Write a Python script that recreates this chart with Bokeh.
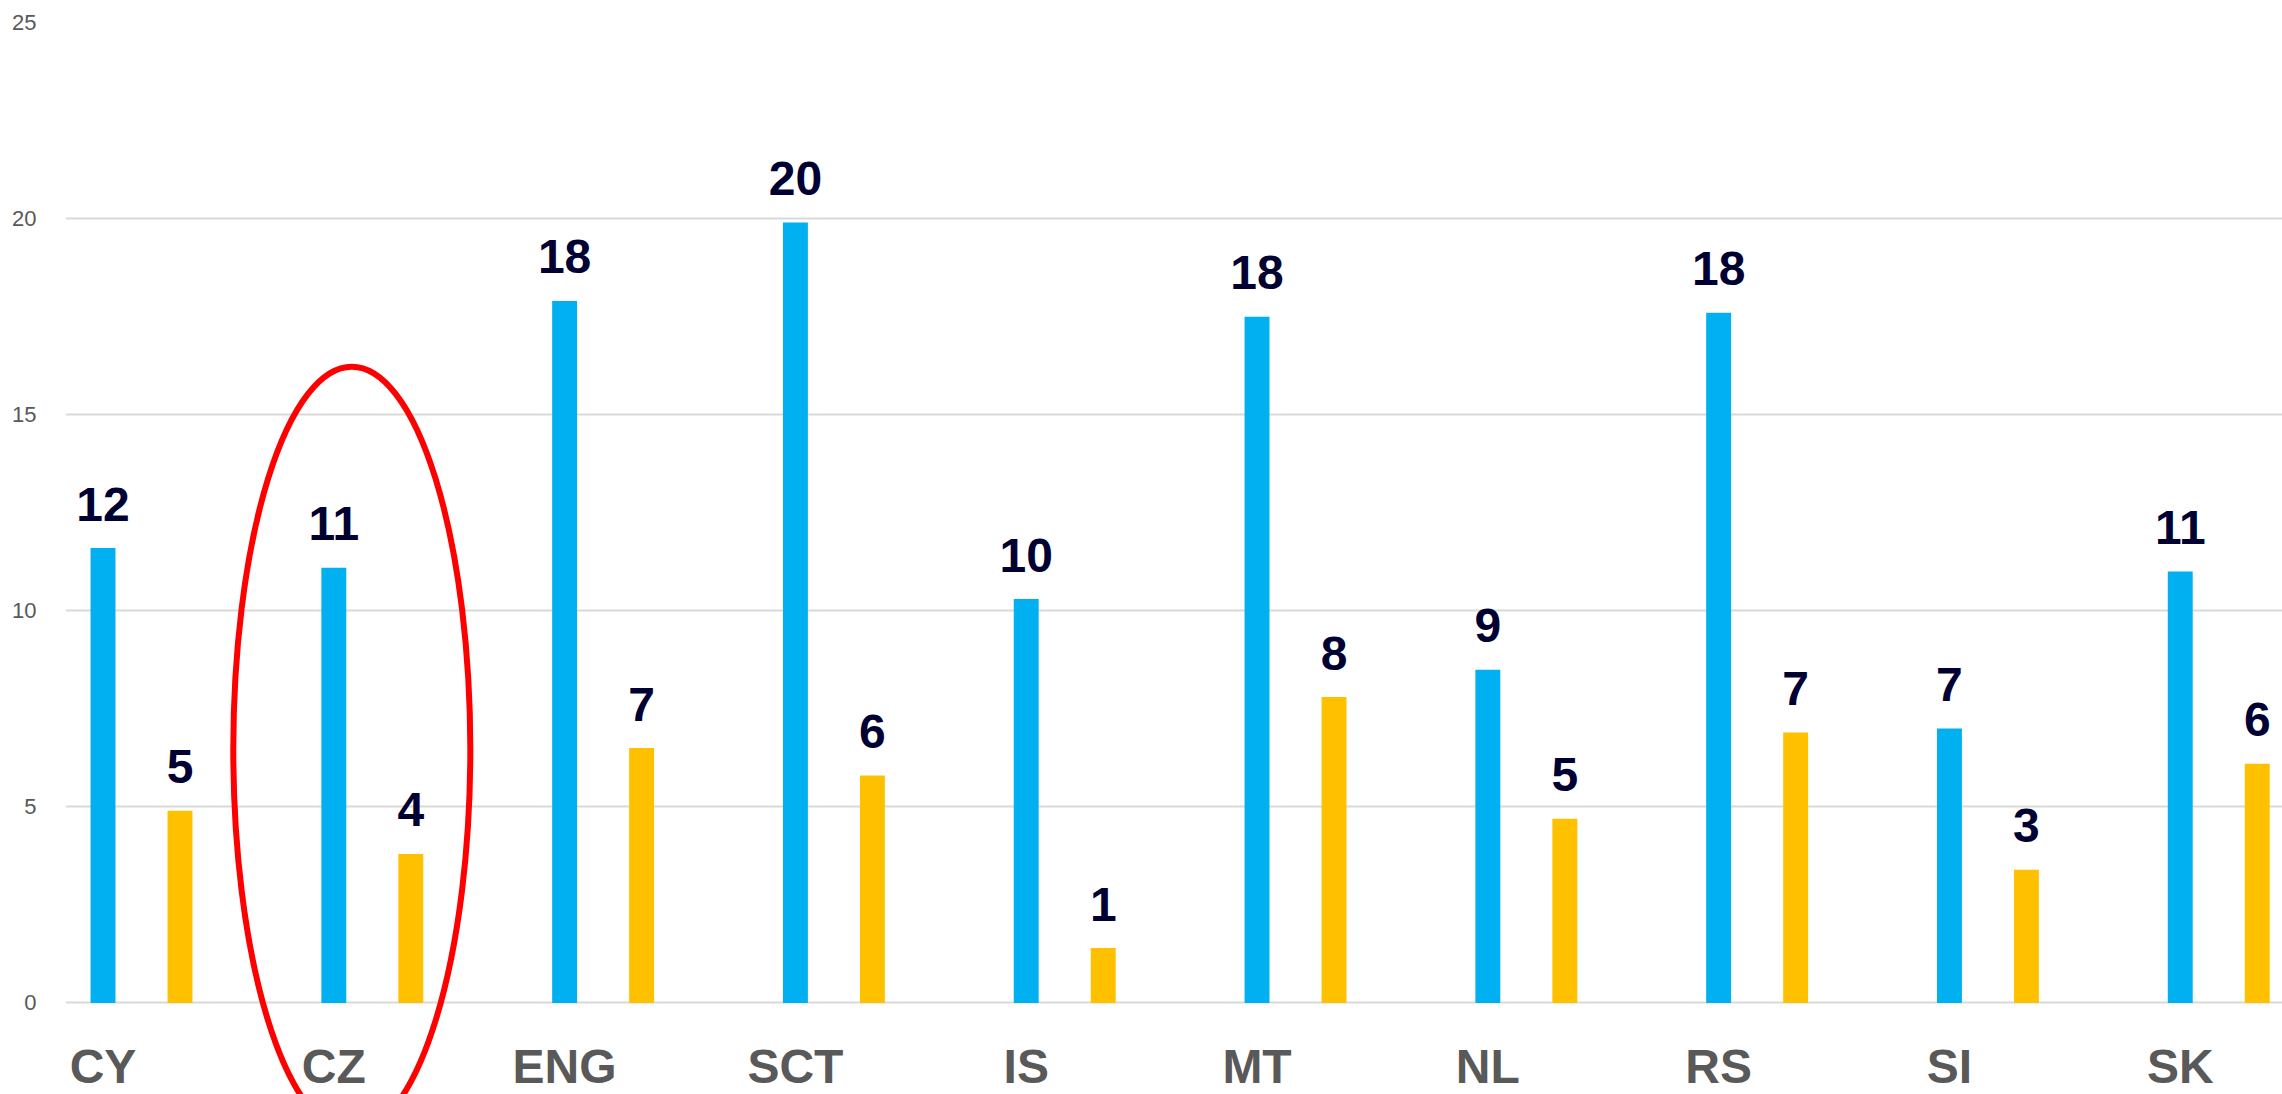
from bokeh.plotting import figure
from bokeh.models import Range1d, FixedTicker, ColumnDataSource
from bokeh.core.properties import value
from bokeh.embed import file_html
from bokeh.resources import INLINE
import math

categories = ["CY", "CZ", "ENG", "SCT", "IS", "MT", "NL", "RS", "SI", "SK"]
series_blue = [11.6, 11.1, 17.9, 19.9, 10.3, 17.5, 8.5, 17.6, 7.0, 11.0]
series_orange = [4.9, 3.8, 6.5, 5.8, 1.4, 7.8, 4.7, 6.9, 3.4, 6.1]
y_ticks = [0, 5, 10, 15, 20, 25]
highlight_category = "CZ"

BLUE = "#00b0f0"
ORANGE = "#ffc000"
LABEL_COLOR = "#000033"
GRAY = "#595959"
FONT = "Liberation Sans"

W, H = 2282, 1094
ORANGE_OFFSET = 0.3336
BAR_W = 0.108


def fmt(v):
    return str(int(math.floor(v + 0.5)))


xs = list(range(len(categories)))
blue_src = ColumnDataSource(dict(
    x=xs, top=series_blue, lbl=[fmt(v) for v in series_blue]))
orange_src = ColumnDataSource(dict(
    x=[i + ORANGE_OFFSET for i in xs], top=series_orange,
    lbl=[fmt(v) for v in series_orange]))
cat_src = ColumnDataSource(dict(x=xs, y=[0] * len(xs), name=categories))

p = figure(width=W, height=H, output_backend="svg", toolbar_location=None,
           x_range=Range1d(-0.1625, 9.443), y_range=Range1d(-2.333, 25),
           min_border_left=65, min_border_right=0, min_border_top=22,
           min_border_bottom=0, outline_line_color=None)
p.background_fill_color = "white"
p.border_fill_color = "white"

p.xaxis.visible = False
p.xgrid.visible = False
p.yaxis.ticker = FixedTicker(ticks=y_ticks)
p.ygrid.ticker = FixedTicker(ticks=y_ticks)
p.ygrid.grid_line_color = "#d9d9d9"
p.ygrid.grid_line_width = 2
p.yaxis.axis_line_color = None
p.yaxis.major_tick_line_color = None
p.yaxis.minor_tick_line_color = None
p.yaxis.major_label_standoff = 23
p.yaxis.major_label_text_font = FONT
p.yaxis.major_label_text_font_size = "22px"
p.yaxis.major_label_text_color = GRAY

p.vbar(x="x", top="top", bottom=0, width=BAR_W, source=blue_src,
       fill_color=BLUE, line_color=None)
p.vbar(x="x", top="top", bottom=0, width=BAR_W, source=orange_src,
       fill_color=ORANGE, line_color=None)

for src in (blue_src, orange_src):
    p.text(x="x", y="top", text="lbl", source=src, y_offset=-44,
           text_align="center", text_baseline="alphabetic",
           text_font=value(FONT), text_font_style="bold",
           text_font_size="48px", text_color=LABEL_COLOR)

p.text(x="x", y="y", text="name", source=cat_src, y_offset=64,
       text_align="center", text_baseline="alphabetic",
       text_font=value(FONT), text_font_style="bold",
       text_font_size="48px", text_color=GRAY)

hi = categories.index(highlight_category)
p.ellipse(x=[hi + 0.078], y=[6.46], width=[1.027], height=[19.53],
          fill_color=None, line_color="#ff0000", line_width=6)

open("out.html", "w").write(file_html(p, INLINE))
